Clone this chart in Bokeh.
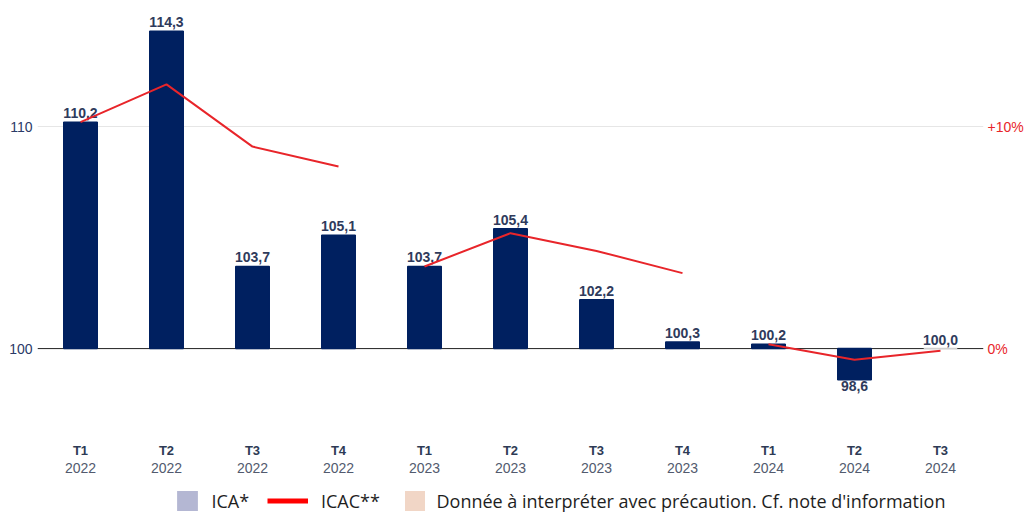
from bokeh.plotting import figure
from bokeh.layouts import column
from bokeh.models import (FactorRange, Range1d, LinearAxis, CategoricalAxis, FixedTicker,
                          Span, Legend, LegendItem, CustomJSTickFormatter)
from bokeh.core.properties import value
from bokeh.embed import file_html
from bokeh.resources import INLINE

# ---- data ----
QUARTERS = ["T1", "T2", "T3", "T4", "T1", "T2", "T3", "T4", "T1", "T2", "T3"]
YEARS = ["2022", "2022", "2022", "2022", "2023", "2023", "2023", "2023", "2024", "2024", "2024"]
ICA = [110.2, 114.3, 103.7, 105.1, 103.7, 105.4, 102.2, 100.3, 100.2, 98.6, 100.0]
ICAC = [10.2, 11.9, 9.1, 8.2, 3.7, 5.2, 4.4, 3.4, 0.2, -0.5, -0.1]
PRECAUTION = [False, False, False, False, False, False, False, False, False, False, True]
LEFT_TICKS = [100, 110]
RIGHT_TICKS = [0, 10]
RIGHT_TICK_LABELS = {0: "0%", 10: "+10%"}
LEGEND_LABELS = ["ICA*", "ICAC**", "Donnée à interpréter avec précaution. Cf. note d'information"]

BASE = 100
NAVY = "#002060"
RED = "#e8252a"
NAN = float("nan")

cats = [f"{q} {y}" for q, y in zip(QUARTERS, YEARS)]

W = 1026
LEFT_BORDER = 37
Y0, Y1 = 96.04, 115.68
p = figure(width=W, height=482, x_range=FactorRange(*cats, range_padding=0),
           y_range=Range1d(Y0, Y1), output_backend="svg", toolbar_location=None,
           min_border_left=LEFT_BORDER, min_border_right=40, min_border_top=0, min_border_bottom=46,
           outline_line_color=None)
p.extra_y_ranges = {"pct": Range1d(Y0 - BASE, Y1 - BASE)}

# grid
p.xgrid.visible = False
p.ygrid.ticker = FixedTicker(ticks=[110])
p.ygrid.grid_line_color = "#e6e6e6"
p.ygrid.grid_line_width = 1

# baseline
p.add_layout(Span(location=BASE, dimension="width", line_color="#222222", line_width=1, level="underlay"))

# bars
bar_colors = ["#cfcfcf" if pc else NAVY for pc in PRECAUTION]
p.vbar(x=cats, top=ICA, bottom=BASE, width=0.39, fill_color=bar_colors, line_color=bar_colors,
       line_width=1.5)

# bar labels
labels = [f"{v:.1f}".replace(".", ",") for v in ICA]
pos = [i for i, v in enumerate(ICA) if v >= BASE]
neg = [i for i, v in enumerate(ICA) if v < BASE]
common = dict(text_align="center", text_font=value("Liberation Sans"), text_font_style="bold",
              text_font_size="14px", text_color="#2f3b5c")
p.text(x=[cats[i] for i in pos], y=[ICA[i] for i in pos], text=[labels[i] for i in pos],
       text_baseline="bottom", y_offset=-4, **common)
p.text(x=[cats[i] for i in neg], y=[ICA[i] for i in neg], text=[labels[i] for i in neg],
       text_baseline="top", y_offset=1, **common)

# ICAC line, one segment per year
xs, ys = [], []
for yr in dict.fromkeys(YEARS):
    idx = [i for i, y in enumerate(YEARS) if y == yr]
    xs.append([cats[i] for i in idx])
    ys.append([ICAC[i] for i in idx])
p.multi_line(xs=xs, ys=ys, y_range_name="pct", line_color=RED, line_width=2)

# axes
ya = p.yaxis[0]
ya.ticker = FixedTicker(ticks=LEFT_TICKS)
ya.axis_line_color = None
ya.major_tick_line_color = None
ya.minor_tick_line_color = None
ya.major_tick_out = 0
ya.major_tick_in = 0
ya.minor_tick_out = 0
ya.major_label_standoff = 5
ya.major_label_text_font = "Liberation Sans"
ya.major_label_text_font_size = "14px"
ya.major_label_text_color = "#2b3a67"

ra = LinearAxis(y_range_name="pct", ticker=FixedTicker(ticks=RIGHT_TICKS),
                major_label_overrides=RIGHT_TICK_LABELS,
                axis_line_color=None, major_tick_line_color=None, minor_tick_line_color=None,
                major_tick_out=0, major_tick_in=0, minor_tick_out=0,
                major_label_standoff=4, major_label_text_font="Liberation Sans",
                major_label_text_font_size="14px", major_label_text_color=RED)
p.add_layout(ra, "right")

xa = p.xaxis[0]
xa.formatter = CustomJSTickFormatter(code="return tick.split(' ')[0];")
xa.axis_line_color = None
xa.major_tick_line_color = None
xa.major_tick_out = 0
xa.major_tick_in = 0
xa.major_label_standoff = 6
xa.major_label_text_font = "Liberation Sans"
xa.major_label_text_font_style = "bold"
xa.major_label_text_font_size = "13px"
xa.major_label_text_color = "#2d3a55"

xa2 = CategoricalAxis(formatter=CustomJSTickFormatter(code="return tick.split(' ')[1];"),
                      axis_line_color=None, major_tick_line_color=None,
                      major_tick_out=0, major_tick_in=0,
                      major_label_standoff=2, major_label_text_font="Liberation Sans",
                      major_label_text_font_size="14px", major_label_text_color="#525a6e")
p.add_layout(xa2, "below")

# ---- legend strip (frames are aligned with the main plot in the column) ----
lp = figure(width=W, height=31, x_range=Range1d(0, 1), y_range=Range1d(0, 1),
            output_backend="svg", toolbar_location=None, x_axis_location=None,
            y_axis_location=None, min_border=0, outline_line_color=None)
lp.grid.visible = False
r_ica = lp.quad(left=[NAN], right=[NAN], top=[NAN], bottom=[NAN], fill_color="#b4b7d3", line_color=None)
r_icac = lp.line(x=[NAN], y=[NAN], line_color="#ff0000", line_width=5)
r_prec = lp.quad(left=[NAN], right=[NAN], top=[NAN], bottom=[NAN], fill_color="#f1d6c6", line_color=None)

# (screen x of glyph start, glyph width, glyph height, standoff); area glyphs are drawn inset by 10%
for label, r, sx, gw, gh, so in [(LEGEND_LABELS[0], r_ica, 174.4, 26, 25, 11),
                                  (LEGEND_LABELS[1], r_icac, 267, 41, 25, 13),
                                  (LEGEND_LABELS[2], r_prec, 401.5, 25, 25, 10)]:
    lg = Legend(items=[LegendItem(label=label, renderers=[r])], location=(sx - LEFT_BORDER, 0),
                orientation="horizontal", glyph_width=gw, glyph_height=gh, label_height=25,
                label_standoff=so, padding=0, margin=0, spacing=0,
                border_line_color=None, background_fill_alpha=0,
                label_text_font="Open Sans", label_text_font_size="18px",
                label_text_color="#1e1e1e")
    lp.add_layout(lg, "center")

open("out.html", "w").write(file_html(column(p, lp, spacing=0), INLINE))
